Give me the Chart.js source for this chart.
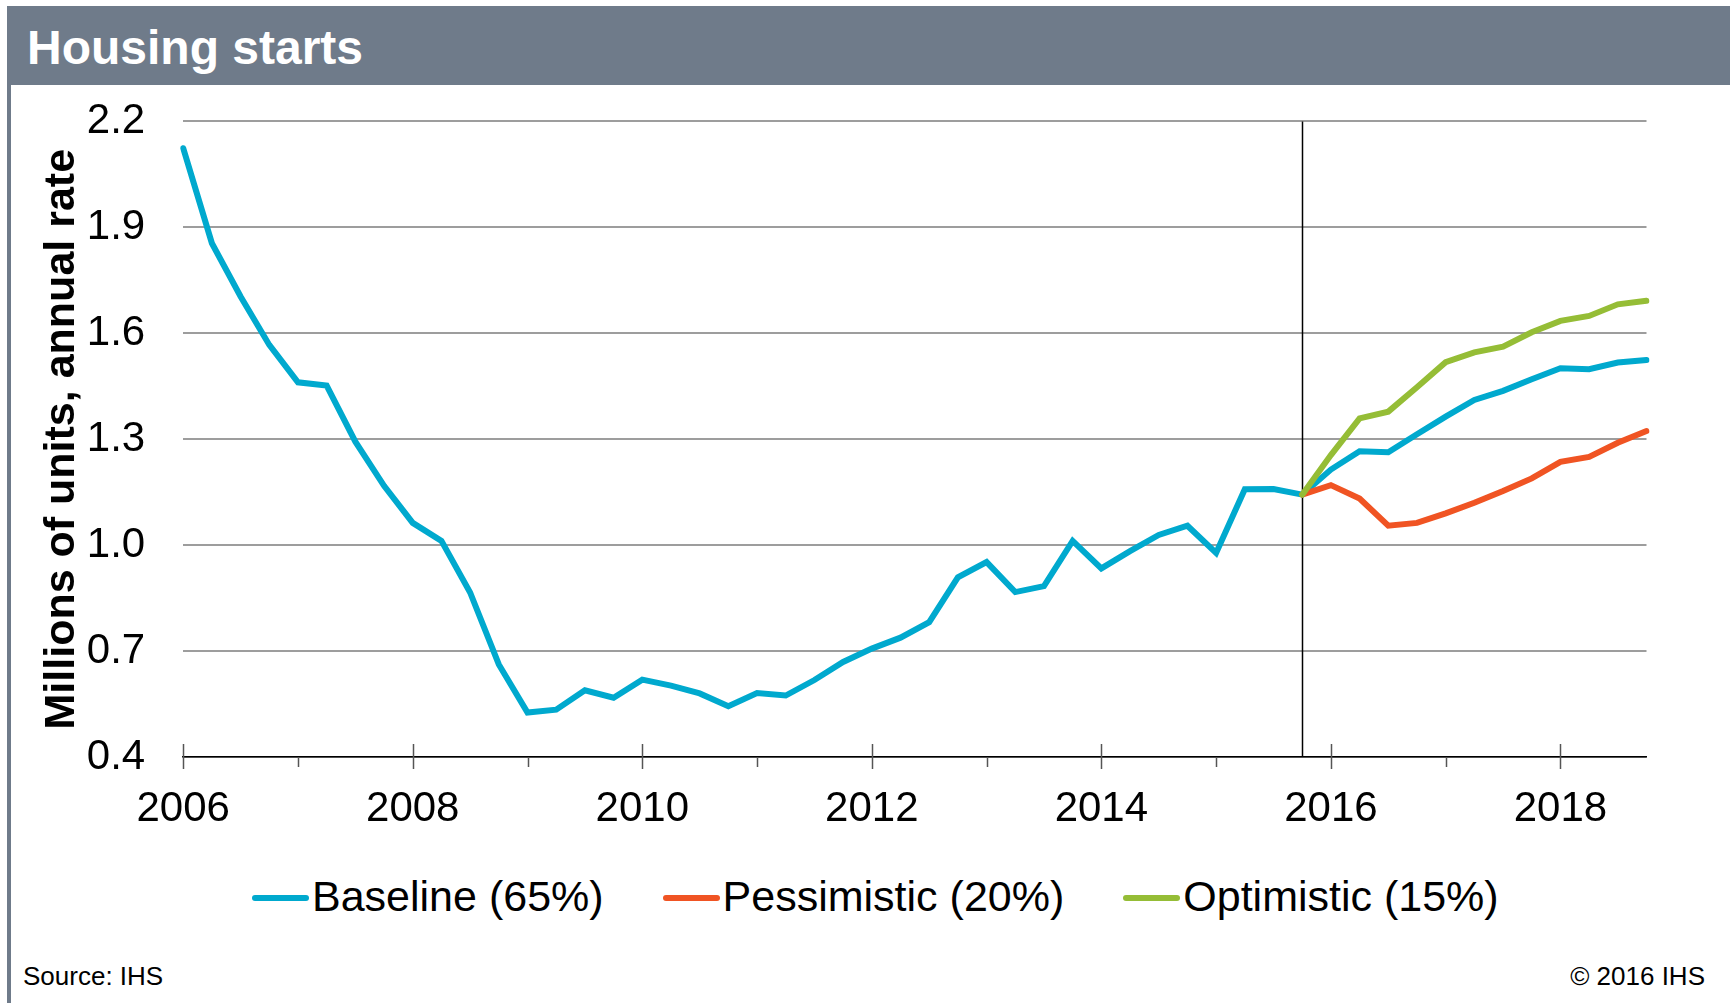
<!DOCTYPE html>
<html>
<head>
<meta charset="utf-8">
<title>Housing starts</title>
<script src="https://cdn.jsdelivr.net/npm/chart.js@4.4.1/dist/chart.umd.min.js"></script>
<style>
    html, body { margin: 0; padding: 0; background: #fff; }
    body {
        width: 1730px;
        height: 1003px;
        position: relative;
        overflow: hidden;
        font-family: 'Liberation Sans', Arial, sans-serif;
        color: #000;
    }
    .header {
        position: absolute;
        left: 7px;
        top: 6px;
        width: 1723px;
        height: 79px;
        background: #6f7b8a;
    }
    .header h1 {
        position: absolute;
        left: 20px;
        top: 14px;
        margin: 0;
        color: #fff;
        font-size: 48px;
        line-height: 56px;
        font-weight: bold;
    }
    .frame-left {
        position: absolute;
        left: 7px;
        top: 85px;
        width: 4px;
        height: 918px;
        background: #6f7b8a;
    }
    #chartBox {
        position: absolute;
        left: 0;
        top: 85px;
        width: 1730px;
        height: 772px;
    }
    .legend {
        position: absolute;
        left: 252px;
        top: 871px;
        display: flex;
        align-items: center;
        font-size: 43px;
        line-height: 50px;
        white-space: nowrap;
    }
    .legend .item { display: flex; align-items: center; margin-right: 59px; }
    .legend .swatch { width: 57px; height: 6px; border-radius: 3px; margin-right: 3px; margin-top: 4px; }
    .note {
        position: absolute;
        top: 961px;
        font-size: 26px;
        line-height: 30px;
    }
</style>
</head>
<body>
<div class="header"><h1>Housing starts</h1></div>
<div class="frame-left"></div>
<div id="chartBox"><canvas id="housingChart"></canvas></div>
<div class="legend" id="legend"></div>
<div class="note" style="left: 23px;">Source: IHS</div>
<div class="note" style="right: 25px;">© 2016 IHS</div>

<script>
// quarterly observations, 2006 Q1 .. 2018 Q4
const quarters = [
    '2006 Q1', '2006 Q2', '2006 Q3', '2006 Q4', '2007 Q1', '2007 Q2', '2007 Q3', '2007 Q4',
    '2008 Q1', '2008 Q2', '2008 Q3', '2008 Q4', '2009 Q1', '2009 Q2', '2009 Q3', '2009 Q4',
    '2010 Q1', '2010 Q2', '2010 Q3', '2010 Q4', '2011 Q1', '2011 Q2', '2011 Q3', '2011 Q4',
    '2012 Q1', '2012 Q2', '2012 Q3', '2012 Q4', '2013 Q1', '2013 Q2', '2013 Q3', '2013 Q4',
    '2014 Q1', '2014 Q2', '2014 Q3', '2014 Q4', '2015 Q1', '2015 Q2', '2015 Q3', '2015 Q4',
    '2016 Q1', '2016 Q2', '2016 Q3', '2016 Q4', '2017 Q1', '2017 Q2', '2017 Q3', '2017 Q4',
    '2018 Q1', '2018 Q2', '2018 Q3', '2018 Q4'
];

const yearLabels = ['2006', '2008', '2010', '2012', '2014', '2016', '2018'];
const yTickValues = [0.4, 0.7, 1.0, 1.3, 1.6, 1.9, 2.2];

// forecast scenarios branch off from this quarter
const forecastStart = '2015 Q4';

// millions of units, annual rate
const baseline = [
    2.124, 1.855, 1.704, 1.567, 1.461, 1.452, 1.293, 1.168,
    1.063, 1.012, 0.866, 0.662, 0.526, 0.534, 0.589, 0.568,
    0.619, 0.602, 0.580, 0.544, 0.581, 0.574, 0.618, 0.669,
    0.707, 0.738, 0.782, 0.909, 0.952, 0.867, 0.884, 1.012,
    0.934, 0.983, 1.029, 1.055, 0.978, 1.158, 1.159, 1.143,
    1.214, 1.266, 1.263, 1.314, 1.364, 1.411, 1.437, 1.470,
    1.501, 1.498, 1.517, 1.524
];

// from 2015 Q4 onwards
const pessimistic = [1.143, 1.170, 1.132, 1.055, 1.063, 1.090, 1.120, 1.153, 1.189, 1.236, 1.250, 1.290, 1.323];
const optimistic = [1.143, 1.255, 1.359, 1.378, 1.447, 1.518, 1.546, 1.562, 1.603, 1.635, 1.649, 1.682, 1.692];

const series = [
    { label: 'Baseline (65%)', color: '#00a9ce', order: 2, values: baseline },
    { label: 'Pessimistic (20%)', color: '#f05423', order: 1, values: pessimistic },
    { label: 'Optimistic (15%)', color: '#95bd36', order: 0, values: optimistic }
];

const startIndex = quarters.indexOf(forecastStart);

const padToQuarters = values =>
    values.length === quarters.length
        ? values
        : new Array(startIndex).fill(null).concat(values);

// vertical marker at the start of the forecast and the year ticks along the x axis
const axisMarks = {
    id: 'axisMarks',
    beforeDatasetsDraw(chart) {
        const { ctx, chartArea, scales: { x } } = chart;
        const px = Math.round(x.getPixelForValue(startIndex)) + 0.5;

        ctx.save();
        ctx.strokeStyle = '#000';
        ctx.lineWidth = 1.5;
        ctx.beginPath();
        ctx.moveTo(px, chartArea.top);
        ctx.lineTo(px, chartArea.bottom);
        ctx.stroke();
        ctx.restore();
    },
    afterDraw(chart) {
        const { ctx, chartArea, scales: { x } } = chart;
        const y0 = chartArea.bottom;

        ctx.save();
        ctx.strokeStyle = '#555';
        ctx.lineWidth = 1.5;
        quarters.forEach((q, i) => {
            if (i % 4)
                return;
            const px = Math.round(x.getPixelForValue(i)) + 0.5;
            const labelled = i % 8 === 0;
            ctx.beginPath();
            ctx.moveTo(px, labelled ? y0 - 13 : y0);
            ctx.lineTo(px, y0 + (labelled ? 12 : 10));
            ctx.stroke();
        });
        ctx.restore();
    }
};

const renderLegend = () => {
    const box = document.getElementById('legend');
    series.forEach(s => {
        const item = document.createElement('div');
        item.className = 'item';
        const swatch = document.createElement('span');
        swatch.className = 'swatch';
        swatch.style.background = s.color;
        const text = document.createElement('span');
        text.textContent = s.label;
        item.appendChild(swatch);
        item.appendChild(text);
        box.appendChild(item);
    });
}

const renderChart = () => {
    const canvas = document
        .getElementById('housingChart')
        .getContext('2d');

    new Chart(canvas, {
        type: 'line',
        data: {
            labels: quarters,
            datasets: series.map(s => ({
                label: s.label,
                data: padToQuarters(s.values),
                borderColor: s.color,
                backgroundColor: s.color,
                borderWidth: 6,
                borderCapStyle: 'round',
                fill: false,
                tension: 0,
                pointRadius: 0,
                pointHoverRadius: 0,
                order: s.order
            }))
        },
        options: {
            responsive: true,
            maintainAspectRatio: false,
            animation: false,
            events: [],
            layout: {
                padding: { left: 0, right: 83.5, top: 36.4, bottom: 0 }
            },
            plugins: {
                legend: { display: false },
                tooltip: { enabled: false }
            },
            scales: {
                x: {
                    type: 'category',
                    offset: false,
                    afterFit: scale => { scale.height = 100; },
                    grid: { display: false, drawTicks: false },
                    border: { display: true, color: '#000', width: 1.5 },
                    ticks: {
                        autoSkip: false,
                        maxRotation: 0,
                        minRotation: 0,
                        padding: 27,
                        color: '#000',
                        font: { family: "'Liberation Sans', Arial, sans-serif", size: 42 },
                        callback: (value, index) => index % 8 === 0 ? yearLabels[index / 8] : ''
                    }
                },
                y: {
                    min: 0.4,
                    max: 2.2,
                    afterFit: scale => { scale.width = 183.2; },
                    afterBuildTicks: scale => {
                        scale.ticks = yTickValues.map(v => ({ value: v }));
                    },
                    // invisible tick marks keep the labels clear of the plot
                    grid: { color: '#9d9d9d', lineWidth: 2, drawTicks: true, tickLength: 38, tickColor: 'rgba(0,0,0,0)' },
                    border: { display: false },
                    title: {
                        display: true,
                        text: 'Millions of units, annual rate',
                        color: '#000',
                        padding: { top: 36, bottom: 0 },
                        font: { family: "'Liberation Sans', Arial, sans-serif", size: 43, weight: 'bold' }
                    },
                    ticks: {
                        padding: 0,
                        color: '#000',
                        font: { family: "'Liberation Sans', Arial, sans-serif", size: 42 },
                        callback: value => value.toFixed(1)
                    }
                }
            }
        },
        plugins: [axisMarks]
    });
}

renderLegend();
renderChart();
</script>
</body>
</html>
